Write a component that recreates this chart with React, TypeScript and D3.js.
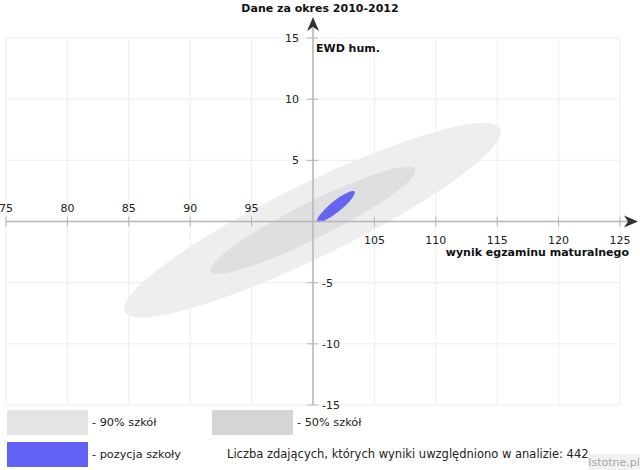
// @ts-nocheck

import React from 'react'
import * as d3 from 'd3'

const xTicks = [75, 80, 85, 90, 95, 100, 105, 110, 115, 120, 125]
const yTicks = [15, 10, 5, 0, -5, -10, -15]
const xLabelsAbove = [75, 80, 85, 90, 95]
const xLabelsBelow = [105, 110, 115, 120, 125]
const yLabelsLeft = [15, 10, 5]
const yLabelsRight = [-5, -10, -15]

// ellipses in data units: centre, semi axes, tilt in degrees
const regions = [
  { key: 'p90', label: '- 90% szkół', cx: 99.95, cy: 0.1, rx: 17.0, ry: 3.0, angle: 26 },
  { key: 'p50', label: '- 50% szkół', cx: 100.0, cy: 0.1, rx: 9.3, ry: 1.47, angle: 26.6 },
]
const school = { key: 'school', label: '- pozycja szkoły', cx: 101.87, cy: 1.22, rx: 1.95, ry: 0.45, angle: 39 }

const title = 'Dane za okres 2010-2012'
const yTitle = 'EWD hum.'
const xTitle = 'wynik egzaminu maturalnego'
const note = 'Liczba zdających, których wyniki uwzględniono w analizie: 442'

const fills = { p90: '#eeeeee', p50: '#dfdfdf', school: '#6565ef' }
const legendFills = { p90: '#e4e4e4', p50: '#d5d5d5', school: '#6262f6' }

const font = '"DejaVu Sans", Verdana, sans-serif'

const App = () => {
  const svgRef = React.useRef(null)
  const width = 640
  const height = 470

  React.useEffect(() => {
    document.body.style.margin = '0'
    const x = d3.scaleLinear().domain([75, 125]).range([6, 620])
    const y = d3.scaleLinear().domain([-15, 15]).range([405, 38])

    const svgEl = d3.select(svgRef.current)
    svgEl.selectAll('*').remove()
    const svg = svgEl.append('g')

    svg.append('rect').attr('width', width).attr('height', height).attr('fill', '#fff')

    // grid
    const grid = svg.append('g').attr('stroke', '#ededed').attr('stroke-width', 1)
    grid
      .selectAll('.gx')
      .data(xTicks)
      .enter()
      .append('line')
      .attr('x1', (d) => x(d))
      .attr('x2', (d) => x(d))
      .attr('y1', y(15))
      .attr('y2', y(-15))
    grid
      .selectAll('.gy')
      .data(yTicks)
      .enter()
      .append('line')
      .attr('x1', x(75))
      .attr('x2', x(125))
      .attr('y1', (d) => y(d))
      .attr('y2', (d) => y(d))

    // ellipses
    const drawEllipse = (e) =>
      svg
        .append('ellipse')
        .attr('transform', `translate(${x(e.cx)},${y(e.cy)}) rotate(${-e.angle})`)
        .attr('rx', x(e.cx + e.rx) - x(e.cx))
        .attr('ry', y(e.cy) - y(e.cy + e.ry))
        .attr('fill', fills[e.key])
    regions.forEach(drawEllipse)
    drawEllipse(school)

    // axes
    const axis = svg.append('g').attr('stroke', '#b5b5b5').attr('stroke-width', 1.5)
    axis
      .append('line')
      .attr('x1', x(75))
      .attr('x2', 628)
      .attr('y1', y(0))
      .attr('y2', y(0))
    axis
      .append('line')
      .attr('x1', x(100))
      .attr('x2', x(100))
      .attr('y1', y(-15))
      .attr('y2', 28)
    axis
      .selectAll('.tx')
      .data(xTicks.filter((d) => d !== 100))
      .enter()
      .append('line')
      .attr('stroke-width', 1)
      .attr('x1', (d) => x(d))
      .attr('x2', (d) => x(d))
      .attr('y1', y(0) - 5)
      .attr('y2', y(0) + 5)
    axis
      .selectAll('.ty')
      .data(yTicks.filter((d) => d !== 0))
      .enter()
      .append('line')
      .attr('stroke-width', 1)
      .attr('x1', x(100) - 6)
      .attr('x2', x(100) + 5)
      .attr('y1', (d) => y(d))
      .attr('y2', (d) => y(d))

    // arrow heads
    const x0 = y(0)
    const y0 = x(100)
    svg
      .append('path')
      .attr('d', `M638,${x0} L624,${x0 - 6} L628,${x0} L624,${x0 + 6} Z`)
      .attr('fill', '#333')
    svg
      .append('path')
      .attr('d', `M${y0},17 L${y0 - 6},31 L${y0},27 L${y0 + 6},31 Z`)
      .attr('fill', '#333')

    // tick labels
    const labels = svg
      .append('g')
      .attr('font-family', font)
      .attr('font-size', 11)
      .attr('fill', '#222')
    labels
      .selectAll('.la')
      .data(xLabelsAbove)
      .enter()
      .append('text')
      .attr('x', (d) => x(d))
      .attr('y', y(0) - 10)
      .attr('text-anchor', 'middle')
      .text((d) => d)
    labels
      .selectAll('.lb')
      .data(xLabelsBelow)
      .enter()
      .append('text')
      .attr('x', (d) => x(d))
      .attr('y', y(0) + 22)
      .attr('text-anchor', 'middle')
      .text((d) => d)
    labels
      .selectAll('.ll')
      .data(yLabelsLeft)
      .enter()
      .append('text')
      .attr('x', x(100) - 14)
      .attr('y', (d) => y(d) + 4)
      .attr('text-anchor', 'end')
      .text((d) => d)
    labels
      .selectAll('.lr')
      .data(yLabelsRight)
      .enter()
      .append('text')
      .attr('x', x(100) + 9)
      .attr('y', (d) => y(d) + 4)
      .text((d) => d)

    // titles
    const bold = svg
      .append('g')
      .attr('font-family', font)
      .attr('font-size', 11)
      .attr('font-weight', 'bold')
      .attr('fill', '#111')
    bold.append('text').attr('x', 320).attr('y', 12).attr('text-anchor', 'middle').text(title)
    bold.append('text').attr('x', x(100) + 3).attr('y', 52).text(yTitle)
    bold.append('text').attr('x', 629).attr('y', y(0) + 34).attr('text-anchor', 'end').text(xTitle)

    // legend
    const legendItems = [
      { ...regions[0], lx: 7, ly: 410 },
      { ...regions[1], lx: 212, ly: 410 },
      { ...school, lx: 7, ly: 442 },
    ]
    const legend = svg.append('g').attr('font-family', font).attr('font-size', 11.3).attr('fill', '#222')
    legend
      .selectAll('rect')
      .data(legendItems)
      .enter()
      .append('rect')
      .attr('x', (d) => d.lx)
      .attr('y', (d) => d.ly)
      .attr('width', 81)
      .attr('height', 25)
      .attr('fill', (d) => legendFills[d.key])
    legend
      .selectAll('text')
      .data(legendItems)
      .enter()
      .append('text')
      .attr('x', (d) => d.lx + 85)
      .attr('y', (d) => d.ly + 16)
      .text((d) => d.label)
    legend.append('text').attr('x', 227).attr('y', 458).attr('font-size', 11.5).text(note)

    // watermark
    svg.append('rect').attr('x', 588).attr('y', 454).attr('width', 52).attr('height', 16).attr('fill', '#f1f1f1')
    svg
      .append('text')
      .attr('x', 614)
      .attr('y', 466)
      .attr('text-anchor', 'middle')
      .attr('font-family', font)
      .attr('font-size', 11)
      .attr('fill', '#a8a8a8')
      .text('Istotne.pl')
  }, [])

  return (
    <div style={{ position: 'absolute', left: 0, top: 0 }}>
      <svg ref={svgRef} width={width} height={height} style={{ display: 'block' }} />
    </div>
  )
}

export default App
